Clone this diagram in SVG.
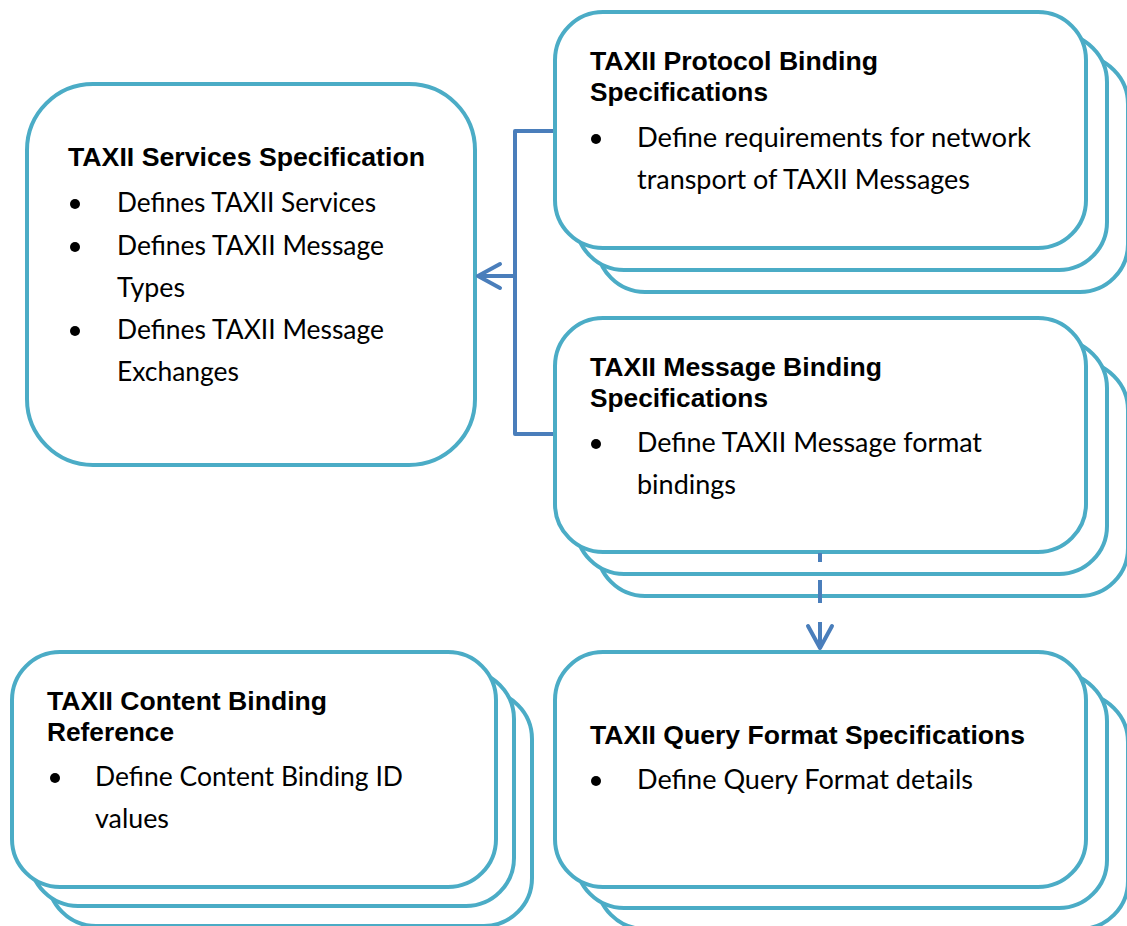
<svg xmlns="http://www.w3.org/2000/svg" width="1127" height="926" viewBox="0 0 1127 926">
<style>
.box{fill:#fff;stroke:#4BACC6;stroke-width:4}
.t{font-family:"Liberation Sans",Arial,sans-serif;font-weight:bold;font-size:26px;fill:#000}
.b{font-family:Lato,"Open Sans",sans-serif;font-size:26px;fill:#000}
.dot{fill:#000}
.con{fill:none;stroke:#4A7EBB;stroke-width:4;stroke-linejoin:round}
</style>
<defs>
<marker id="chev" markerUnits="userSpaceOnUse" markerWidth="40" markerHeight="40" viewBox="-30 -20 40 40" refX="0" refY="0" orient="auto">
<path d="M-22,-12 L0,0 L-22,12" fill="none" stroke="#4A7EBB" stroke-width="4" stroke-linecap="round" stroke-linejoin="round"/>
</marker>
</defs>
<rect width="1127" height="926" fill="#fff"/>

<g id="services">
<rect class="box" x="27" y="84" width="448" height="381" rx="66"/>
<text class="t" x="68" y="166" textLength="357" lengthAdjust="spacingAndGlyphs">TAXII Services Specification</text>
<circle class="dot" cx="75" cy="204" r="5"/>
<text class="b" x="117" y="212" textLength="259" lengthAdjust="spacingAndGlyphs">Defines TAXII Services</text>
<circle class="dot" cx="75" cy="247" r="5"/>
<text class="b" x="117" y="255" textLength="267" lengthAdjust="spacingAndGlyphs">Defines TAXII Message</text>
<text class="b" x="117" y="297" textLength="68" lengthAdjust="spacingAndGlyphs">Types</text>
<circle class="dot" cx="75" cy="331" r="5"/>
<text class="b" x="117" y="339" textLength="267" lengthAdjust="spacingAndGlyphs">Defines TAXII Message</text>
<text class="b" x="117" y="381" textLength="122" lengthAdjust="spacingAndGlyphs">Exchanges</text>
</g>

<g id="protocol">
<rect class="box" x="597" y="56" width="531" height="236" rx="48"/>
<rect class="box" x="576" y="34" width="531" height="236" rx="48"/>
<rect class="box" x="555" y="12" width="531" height="236" rx="48"/>
<text class="t" x="590" y="70" textLength="288" lengthAdjust="spacingAndGlyphs">TAXII Protocol Binding</text>
<text class="t" x="590" y="101" textLength="178" lengthAdjust="spacingAndGlyphs">Specifications</text>
<circle class="dot" cx="596" cy="139" r="5"/>
<text class="b" x="637" y="147" textLength="394" lengthAdjust="spacingAndGlyphs">Define requirements for network</text>
<text class="b" x="637" y="189" textLength="333" lengthAdjust="spacingAndGlyphs">transport of TAXII Messages</text>
</g>

<g id="message">
<rect class="box" x="597" y="362" width="531" height="234" rx="48"/>
<rect class="box" x="576" y="340" width="531" height="234" rx="48"/>
<rect class="box" x="555" y="318" width="531" height="234" rx="48"/>
<text class="t" x="590" y="376" textLength="292" lengthAdjust="spacingAndGlyphs">TAXII Message Binding</text>
<text class="t" x="590" y="407" textLength="178" lengthAdjust="spacingAndGlyphs">Specifications</text>
<circle class="dot" cx="596" cy="444" r="5"/>
<text class="b" x="637" y="452" textLength="345" lengthAdjust="spacingAndGlyphs">Define TAXII Message format</text>
<text class="b" x="637" y="494" textLength="99" lengthAdjust="spacingAndGlyphs">bindings</text>
</g>

<g id="content">
<rect class="box" x="48" y="691" width="484" height="235" rx="48"/>
<rect class="box" x="30" y="671" width="484" height="235" rx="48"/>
<rect class="box" x="12" y="652" width="484" height="235" rx="48"/>
<text class="t" x="47" y="710" textLength="280" lengthAdjust="spacingAndGlyphs">TAXII Content Binding</text>
<text class="t" x="47" y="741" textLength="127" lengthAdjust="spacingAndGlyphs">Reference</text>
<circle class="dot" cx="55" cy="778" r="5"/>
<text class="b" x="95" y="786" textLength="308" lengthAdjust="spacingAndGlyphs">Define Content Binding ID</text>
<text class="b" x="95" y="828" textLength="74" lengthAdjust="spacingAndGlyphs">values</text>
</g>

<g id="query">
<rect class="box" x="597" y="694" width="531" height="235" rx="48"/>
<rect class="box" x="576" y="673" width="531" height="235" rx="48"/>
<rect class="box" x="555" y="652" width="531" height="235" rx="48"/>
<text class="t" x="590" y="744" textLength="435" lengthAdjust="spacingAndGlyphs">TAXII Query Format Specifications</text>
<circle class="dot" cx="596" cy="781" r="5"/>
<text class="b" x="637" y="789" textLength="336" lengthAdjust="spacingAndGlyphs">Define Query Format details</text>
</g>

<g id="connectors">
<path class="con" d="M553,131 H515 V434 H553"/>
<path class="con" d="M515,276 H478" marker-end="url(#chev)"/>
<path class="con" d="M820,553 V648" stroke-dasharray="9 18 23 19 30" marker-end="url(#chev)"/>
</g>
</svg>
